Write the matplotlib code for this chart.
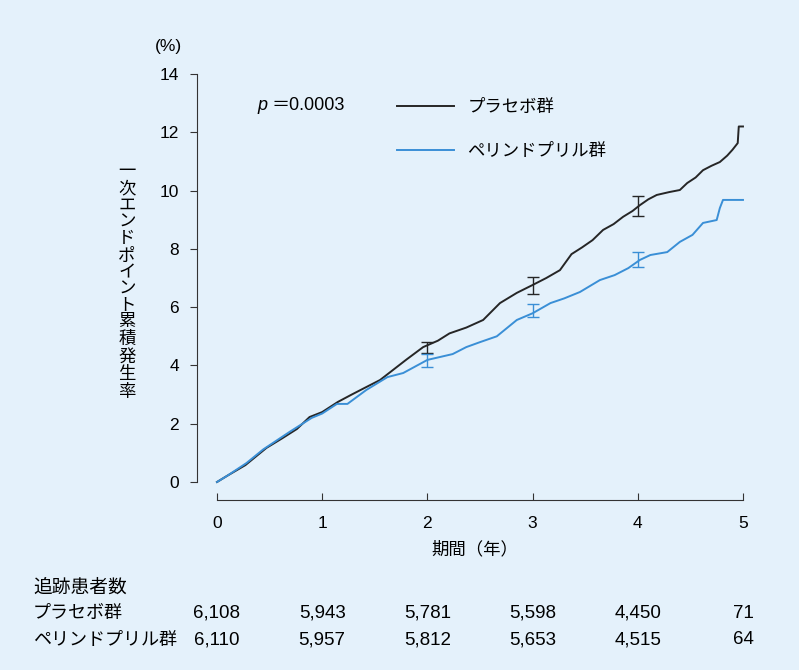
import matplotlib.pyplot as plt

plt.rcParams['font.family'] = ['Liberation Sans', 'Noto Sans CJK JP', 'DejaVu Sans']

# cumulative incidence (%)
placebo_t = [0, 0.1, 0.27, 0.47, 0.62, 0.76, 0.88, 1.0, 1.15, 1.28, 1.42, 1.55, 1.65, 1.8, 1.96,
             2.1, 2.21, 2.37, 2.53, 2.69, 2.85, 3.0, 3.13, 3.26, 3.37, 3.47, 3.57, 3.67, 3.77,
             3.86, 3.95, 4.02, 4.1, 4.18, 4.3, 4.4, 4.47, 4.55, 4.62, 4.7, 4.78, 4.85, 4.9,
             4.95, 4.96, 5.0]
placebo_y = [0, 0.22, 0.58, 1.17, 1.5, 1.82, 2.23, 2.4, 2.75, 3.0, 3.26, 3.5, 3.78, 4.2, 4.63,
             4.85, 5.1, 5.3, 5.56, 6.14, 6.49, 6.76, 7.0, 7.27, 7.82, 8.05, 8.3, 8.65, 8.85,
             9.1, 9.3, 9.5, 9.7, 9.85, 9.95, 10.02, 10.26, 10.45, 10.7, 10.85, 10.98, 11.2, 11.4,
             11.63, 12.2, 12.2]

perin_t = [0, 0.1, 0.28, 0.44, 0.69, 0.9, 1.0, 1.14, 1.24, 1.42, 1.62, 1.77, 2.0, 2.24, 2.37,
           2.5, 2.66, 2.85, 3.0, 3.17, 3.3, 3.45, 3.64, 3.78, 3.91, 4.02, 4.12, 4.28, 4.4,
           4.52, 4.62, 4.75, 4.78, 4.81, 5.0]
perin_y = [0, 0.22, 0.65, 1.12, 1.72, 2.2, 2.35, 2.68, 2.68, 3.16, 3.6, 3.74, 4.19, 4.39, 4.63,
           4.8, 5.0, 5.56, 5.79, 6.14, 6.3, 6.52, 6.93, 7.1, 7.34, 7.62, 7.79, 7.89, 8.24,
           8.48, 8.89, 8.99, 9.4, 9.68, 9.68]

# confidence bars at years 2, 3, 4
bar_years = [2, 3, 4]
placebo_lo = [4.43, 6.45, 9.13]
placebo_hi = [4.80, 7.03, 9.81]
perin_lo = [3.95, 5.66, 7.38]
perin_hi = [4.39, 6.10, 7.89]

years = [0, 1, 2, 3, 4, 5]
placebo_n = ['6,108', '5,943', '5,781', '5,598', '4,450', '71']
perin_n = ['6,110', '5,957', '5,812', '5,653', '4,515', '64']

black = '#262626'
blue = '#3a8fd6'
bg = '#e4f1fb'

fig = plt.figure(figsize=(7.99, 6.7), dpi=100, facecolor=bg)
ax = fig.add_axes([197 / 799, 1 - 499.5 / 670, 556.5 / 799, 431.3 / 670])
ax.set_facecolor(bg)

ax.plot(placebo_t, placebo_y, color=black, lw=1.4, label='プラセボ群')
ax.plot(perin_t, perin_y, color=blue, lw=1.4, label='ペリンドプリル群')

for lo, hi, c in [(placebo_lo, placebo_hi, black), (perin_lo, perin_hi, blue)]:
    mid = [(a + b) / 2 for a, b in zip(lo, hi)]
    half = [(b - a) / 2 for a, b in zip(lo, hi)]
    ax.errorbar(bar_years, mid, yerr=half, fmt='none', ecolor=c, elinewidth=1, capsize=4, capthick=1)

ax.set_xlim(-0.19, 5.1)
ax.set_ylim(-0.6, 14.2)
ax.set_xticks(years)
ax.set_yticks(range(0, 15, 2))
for s in ['top', 'right']:
    ax.spines[s].set_visible(False)
ax.spines['left'].set_bounds(0, 14)
ax.spines['bottom'].set_bounds(0, 5)
ax.spines['left'].set_color('#333333')
ax.spines['bottom'].set_color('#333333')
ax.tick_params(axis='y', direction='out', length=5, labelsize=12.5, pad=8, color='#333333')
ax.tick_params(axis='x', direction='in', length=5, labelsize=12.5, pad=12, color='#333333')

ax.set_xlabel('期間（年）', fontsize=12.5, labelpad=7)

ylab = '一次エンドポイント累積発生率'
fig.text(127 / 799, 1 - 282 / 670, '\n'.join(ylab), ha='center', va='center',
         fontsize=12.5, linespacing=1.12)
fig.text(168 / 799, 1 - 46 / 670, '(%)', ha='center', va='center', fontsize=12.5)

fig.text(257 / 799, 1 - 105 / 670, 'p', style='italic', ha='left', va='center', fontsize=13)
fig.text(271 / 799, 1 - 105 / 670, '＝0.0003', ha='left', va='center', fontsize=13)

ax.legend(loc='upper left', bbox_to_anchor=(397 / 799, 1 - 99 / 670),
          bbox_transform=fig.transFigure, frameon=False, fontsize=12.5,
          handlelength=3.3, handletextpad=0.75, labelspacing=1.6,
          borderpad=0, borderaxespad=0)

# numbers at risk
fig.text(33 / 799, 1 - 588 / 670, '追跡患者数', ha='left', va='center', fontsize=13.5)
for row_y, name, counts in [(613, 'プラセボ群', placebo_n), (640, 'ペリンドプリル群', perin_n)]:
    fig.text(33 / 799, 1 - row_y / 670, name, ha='left', va='center', fontsize=13)
    for yr, n in zip(years, counts):
        xf = fig.transFigure.inverted().transform(ax.transData.transform((yr, 0)))[0]
        fig.text(xf, 1 - row_y / 670, n, ha='center', va='center', fontsize=13.5)

fig.savefig('out.png', dpi=100, facecolor=bg)
